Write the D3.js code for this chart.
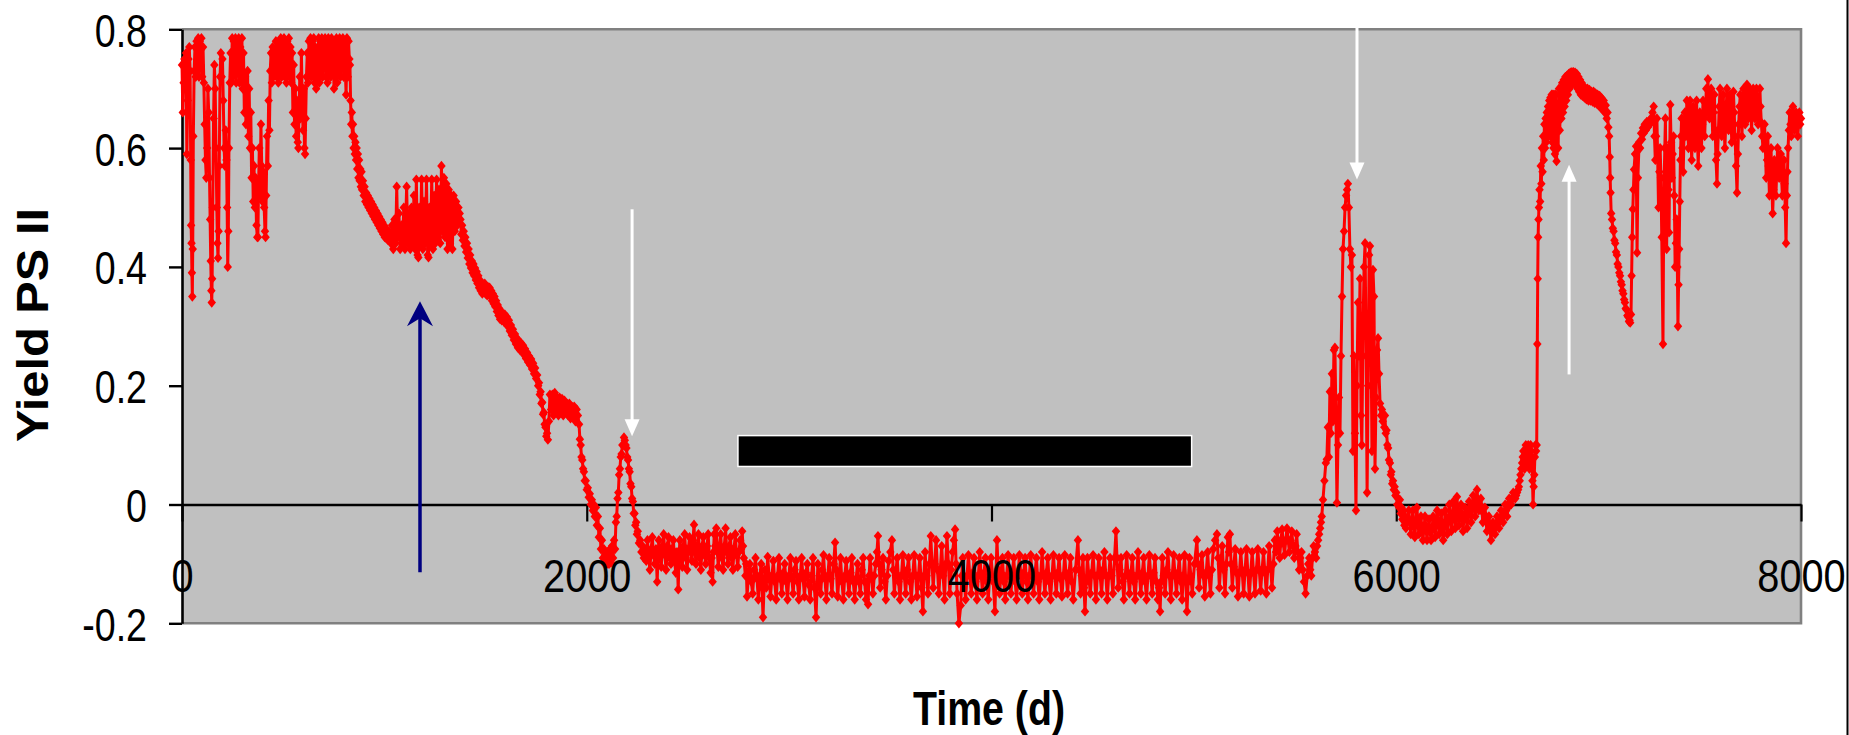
<!DOCTYPE html>
<html><head><meta charset="utf-8">
<script src="https://cdn.jsdelivr.net/npm/d3@7"></script>
<style>html,body{margin:0;padding:0;background:#fff;}svg{display:block;}text{font-family:"Liberation Sans",Arial,sans-serif;}</style>
</head><body><svg id="chart" width="1849" height="735"></svg>
<script>
// ---------- data ----------
const xTickValues = [0, 2000, 4000, 6000, 8000];
const yTickValues = [-0.2, 0, 0.2, 0.4, 0.6, 0.8];
const yTickLabels = ["-0.2", "0", "0.2", "0.4", "0.6", "0.8"];
const xTitle = "Time (d)";
const yTitle = "Yield PS II";

// [day, yield]
const observations = [
[0,0.74],[4,0.66],[8,0.71],[12,0.75],[16,0.70],[20,0.76],[24,0.59],[28,0.68],[32,0.75],[36,0.77],[40,0.73],[43,0.58],[45,0.47],[47,0.44],[49,0.39],[51,0.35],[53,0.43],[56,0.62],[60,0.73],[64,0.77],[68,0.72],[72,0.78],[76,0.73],[80,0.785],[84,0.72],[88,0.78],[92,0.74],[96,0.785],[100,0.72],[104,0.77],[108,0.71],[112,0.64],[116,0.58],[120,0.55],[124,0.60],[128,0.70],[132,0.66],[136,0.55],[139,0.48],[142,0.41],[145,0.36],[147,0.34],[149,0.38],[152,0.50],[156,0.65],[160,0.74],[164,0.70],[168,0.60],[172,0.50],[175,0.44],[178,0.415],[181,0.46],[184,0.57],[188,0.72],[192,0.76],[196,0.72],[200,0.75],[204,0.68],[208,0.60],[212,0.57],[216,0.63],[220,0.58],[223,0.50],[226,0.40],[229,0.46],[232,0.60],[236,0.71],[240,0.76],[244,0.71],[248,0.785],[252,0.72],[256,0.78],[260,0.73],[264,0.785],[268,0.71],[272,0.78],[276,0.73],[280,0.785],[284,0.71],[288,0.77],[292,0.72],[296,0.785],[300,0.70],[304,0.76],[308,0.66],[312,0.72],[316,0.64],[320,0.66],[324,0.73],[328,0.62],[332,0.70],[336,0.60],[340,0.66],[344,0.55],[348,0.60],[352,0.51],[356,0.57],[360,0.50],[364,0.55],[368,0.47],[372,0.45],[375,0.45],[378,0.53],[382,0.60],[386,0.52],[390,0.64],[394,0.57],[398,0.51],[402,0.56],[406,0.50],[410,0.46],[413,0.45],[416,0.52],[420,0.62],[424,0.57],[428,0.68],[432,0.63],[436,0.73],[440,0.76],[444,0.71],[448,0.77],[452,0.72],[456,0.76],[460,0.73],[464,0.78],[468,0.72],[472,0.77],[476,0.71],[480,0.78],[484,0.74],[488,0.785],[492,0.72],[496,0.78],[500,0.73],[504,0.785],[508,0.72],[512,0.77],[516,0.71],[520,0.78],[524,0.73],[528,0.785],[532,0.72],[536,0.77],[540,0.71],[544,0.76],[548,0.66],[552,0.74],[556,0.64],[560,0.70],[564,0.62],[568,0.68],[572,0.61],[575,0.60],[578,0.66],[582,0.72],[586,0.65],[590,0.76],[594,0.68],[598,0.63],[602,0.70],[605,0.60],[608,0.59],[611,0.65],[615,0.72],[619,0.76],[623,0.71],[627,0.78],[631,0.73],[635,0.785],[639,0.72],[643,0.78],[647,0.73],[651,0.785],[655,0.71],[659,0.77],[663,0.70],[667,0.76],[671,0.72],[675,0.785],[679,0.71],[683,0.78],[687,0.73],[691,0.785],[695,0.72],[699,0.78],[703,0.74],[707,0.785],[711,0.72],[715,0.78],[719,0.71],[723,0.785],[727,0.73],[731,0.78],[735,0.72],[739,0.785],[743,0.73],[747,0.78],[751,0.70],[755,0.77],[759,0.72],[763,0.785],[767,0.71],[771,0.78],[775,0.73],[779,0.785],[783,0.72],[787,0.78],[791,0.74],[795,0.785],[799,0.72],[803,0.78],[807,0.73],[811,0.69],[815,0.785],[819,0.72],[823,0.78],[827,0.75],[830,0.74],
[833,0.68],[836,0.64],[839,0.66],[842,0.62],[845,0.64],[848,0.60],[851,0.62],[854,0.59],[857,0.61],[860,0.58],[863,0.60],[866,0.565],[869,0.59],[872,0.55],[875,0.58],[878,0.545],[881,0.565],[884,0.535],[887,0.56],[890,0.53],[894,0.545],[898,0.52],[902,0.535],[906,0.51],[910,0.525],[914,0.505],[918,0.52],[922,0.50],[926,0.515],[930,0.495],[934,0.51],[938,0.49],[942,0.505],[946,0.485],[950,0.50],[954,0.48],[958,0.495],[962,0.475],[966,0.49],[970,0.47],[974,0.485],[978,0.465],[982,0.48],[986,0.46],[990,0.475],[994,0.455],[998,0.47],[1002,0.45],[1006,0.465],[1010,0.448],[1014,0.462],[1018,0.445],[1022,0.46],[1026,0.445],
[1032,0.44],[1038,0.47],[1044,0.43],[1050,0.48],[1056,0.44],[1061,0.535],[1066,0.45],[1072,0.49],[1078,0.43],[1084,0.47],[1090,0.44],[1096,0.50],[1102,0.43],[1110,0.535],[1116,0.44],[1122,0.49],[1128,0.43],[1134,0.50],[1140,0.44],[1146,0.52],[1152,0.43],[1158,0.547],[1164,0.42],[1168,0.416],[1172,0.50],[1178,0.44],[1184,0.547],[1190,0.43],[1196,0.51],[1202,0.44],[1208,0.547],[1214,0.42],[1218,0.416],[1222,0.50],[1228,0.44],[1234,0.547],[1240,0.43],[1246,0.52],[1252,0.44],[1258,0.547],[1264,0.45],[1270,0.53],[1276,0.44],[1282,0.57],[1288,0.46],[1294,0.55],[1300,0.45],[1306,0.54],[1312,0.43],[1318,0.53],[1324,0.44],[1330,0.52],[1336,0.43],[1342,0.52],[1348,0.46],[1354,0.51],[1360,0.47],[1366,0.50],[1372,0.49],
[1376,0.48],[1380,0.455],[1384,0.47],[1388,0.445],[1392,0.46],[1396,0.435],[1400,0.45],[1404,0.425],[1408,0.44],[1412,0.415],[1416,0.43],[1420,0.405],[1424,0.42],[1428,0.398],[1432,0.41],[1436,0.39],[1440,0.405],[1444,0.385],[1448,0.398],[1452,0.378],[1456,0.392],[1460,0.372],[1464,0.385],[1468,0.365],[1472,0.378],[1476,0.36],[1480,0.372],[1484,0.355],[1488,0.37],[1492,0.358],[1496,0.372],[1500,0.355],[1504,0.368],[1508,0.352],[1512,0.366],[1516,0.355],[1520,0.365],[1524,0.35],[1528,0.36],[1532,0.343],[1536,0.355],[1540,0.338],[1544,0.35],[1548,0.333],[1552,0.343],[1556,0.325],[1560,0.336],[1564,0.318],[1568,0.33],[1572,0.312],[1576,0.325],[1580,0.31],[1585,0.322],[1590,0.308],[1595,0.32],[1600,0.305],[1605,0.316],[1610,0.3],[1615,0.31],[1620,0.292],[1625,0.302],[1630,0.285],[1635,0.295],[1640,0.277],[1645,0.287],[1650,0.27],[1655,0.28],[1660,0.264],[1665,0.275],[1670,0.26],[1675,0.272],[1680,0.258],[1685,0.268],[1690,0.252],[1695,0.262],[1700,0.246],[1705,0.256],[1710,0.24],[1715,0.25],[1720,0.235],[1725,0.245],[1730,0.228],[1735,0.238],[1740,0.22],[1745,0.23],[1750,0.212],[1755,0.218],[1760,0.2],[1764,0.205],[1768,0.185],[1772,0.19],[1776,0.17],[1780,0.172],[1784,0.152],[1788,0.155],[1792,0.135],[1796,0.13],[1800,0.115],[1804,0.12],[1808,0.109],[1813,0.14],[1818,0.185],
[1824,0.16],[1830,0.185],[1836,0.15],[1842,0.188],[1848,0.16],[1854,0.18],[1860,0.15],[1866,0.18],[1872,0.155],[1878,0.178],[1884,0.15],[1890,0.175],[1896,0.155],[1902,0.17],[1908,0.15],[1914,0.17],[1920,0.145],[1926,0.165],[1932,0.15],[1938,0.165],[1944,0.14],[1950,0.16],[1956,0.15],
[1962,0.135],[1966,0.11],[1970,0.1],[1974,0.08],[1978,0.075],[1982,0.06],[1986,0.055],[1990,0.04],[1995,0.04],[2000,0.025],[2005,0.028],[2010,0.012],[2015,0.018],[2020,0.0],[2025,0.008],[2030,-0.01],[2035,0.0],[2040,-0.02],[2045,-0.005],[2050,-0.035],[2055,-0.02],[2060,-0.055],[2065,-0.04],[2070,-0.075],[2075,-0.06],[2080,-0.09],[2085,-0.075],[2090,-0.1],[2095,-0.085],[2100,-0.1],[2105,-0.08],[2110,-0.1],[2115,-0.075],[2120,-0.098],[2125,-0.07],[2130,-0.09],[2135,-0.06],[2140,-0.075],[2144,-0.03],[2148,-0.02],[2152,0.01],[2156,0.02],[2160,0.05],[2164,0.06],[2168,0.08],[2172,0.085],[2176,0.1],[2180,0.1],[2184,0.113],[2188,0.108],[2192,0.1],[2196,0.095],[2200,0.08],[2204,0.075],[2208,0.06],[2212,0.055],[2216,0.035],[2220,0.03],[2224,0.01],[2228,0.005],[2232,-0.015],[2236,-0.015],[2240,-0.035],[2244,-0.03],[2248,-0.05],[2252,-0.045],[2258,-0.065],[2264,-0.06],[2270,-0.08],[2276,-0.07],[2282,-0.09],[2288,-0.075],[2294,-0.095],
[2300,-0.06],[2306,-0.09],[2312,-0.11],[2318,-0.075],[2324,-0.055],[2330,-0.085],[2336,-0.10],[2342,-0.075],[2348,-0.13],[2352,-0.09],[2356,-0.06],[2362,-0.085],[2368,-0.105],[2374,-0.07],[2380,-0.05],[2386,-0.085],[2392,-0.11],[2398,-0.07],[2404,-0.055],[2410,-0.09],[2416,-0.10],[2422,-0.075],[2428,-0.06],[2434,-0.095],[2440,-0.115],[2446,-0.08],[2452,-0.143],[2456,-0.09],[2460,-0.06],[2466,-0.085],[2472,-0.105],[2478,-0.07],[2484,-0.05],[2490,-0.09],[2496,-0.11],[2502,-0.075],[2508,-0.055],[2514,-0.08],[2520,-0.095],[2525,-0.06],[2530,-0.034],[2535,-0.08],[2540,-0.10],[2546,-0.07],[2552,-0.05],[2558,-0.09],[2564,-0.11],[2570,-0.07],[2576,-0.055],[2582,-0.085],[2588,-0.10],[2594,-0.07],[2600,-0.05],[2606,-0.09],[2612,-0.115],[2617,-0.09],[2622,-0.13],[2626,-0.08],[2630,-0.05],[2635,-0.07],[2640,-0.04],[2645,-0.08],[2650,-0.105],[2656,-0.07],[2662,-0.05],[2668,-0.09],[2674,-0.11],[2680,-0.07],[2686,-0.04],[2692,-0.08],[2698,-0.10],[2704,-0.07],[2710,-0.055],[2716,-0.09],[2722,-0.11],[2728,-0.075],[2734,-0.05],[2740,-0.085],[2746,-0.105],[2752,-0.08],[2758,-0.06],[2763,-0.075],[2768,-0.045],[2772,-0.07],[2776,-0.09],
[2784,-0.12],[2788,-0.10],[2792,-0.155],[2799,-0.12],[2806,-0.10],[2813,-0.13],[2820,-0.15],[2827,-0.11],[2834,-0.09],[2841,-0.125],[2848,-0.16],[2855,-0.12],[2862,-0.10],[2866,-0.14],[2871,-0.19],[2876,-0.14],[2880,-0.11],[2887,-0.14],[2894,-0.088],[2901,-0.12],[2908,-0.155],[2915,-0.12],[2922,-0.095],[2929,-0.13],[2936,-0.16],[2943,-0.12],[2950,-0.09],[2957,-0.125],[2964,-0.15],[2971,-0.115],[2978,-0.10],[2985,-0.13],[2992,-0.16],[2999,-0.12],[3006,-0.09],[3013,-0.125],[3020,-0.15],[3027,-0.11],[3034,-0.095],[3041,-0.13],[3048,-0.16],[3055,-0.12],[3062,-0.09],[3069,-0.125],[3076,-0.155],[3083,-0.115],[3090,-0.10],[3097,-0.135],[3104,-0.16],[3111,-0.12],[3118,-0.09],[3125,-0.14],[3133,-0.19],[3138,-0.14],[3142,-0.10],[3149,-0.13],[3156,-0.15],[3163,-0.11],[3170,-0.085],[3177,-0.125],[3184,-0.16],[3191,-0.12],[3198,-0.09],[3205,-0.125],[3212,-0.15],[3220,-0.10],[3227,-0.064],[3233,-0.11],[3240,-0.155],[3247,-0.12],[3254,-0.09],[3261,-0.13],[3268,-0.16],[3275,-0.12],[3282,-0.095],[3289,-0.125],[3296,-0.15],[3303,-0.115],[3310,-0.09],[3317,-0.13],[3324,-0.16],[3331,-0.125],[3338,-0.10],[3345,-0.13],[3352,-0.15],[3359,-0.11],[3366,-0.09],[3373,-0.13],[3380,-0.16],[3385,-0.13],[3390,-0.168],[3395,-0.12],[3400,-0.09],[3407,-0.12],[3414,-0.15],[3421,-0.12],[3428,-0.10],[3434,-0.08],[3439,-0.053],[3445,-0.10],[3450,-0.14],[3457,-0.11],[3464,-0.09],[3471,-0.13],[3478,-0.16],[3485,-0.12],[3492,-0.095],[3500,-0.08],[3508,-0.06],[3514,-0.11],[3520,-0.15],[3527,-0.115],[3534,-0.09],[3541,-0.13],[3548,-0.16],[3555,-0.12],[3562,-0.085],[3569,-0.12],[3576,-0.15],[3583,-0.11],[3590,-0.09],[3597,-0.13],[3604,-0.16],[3611,-0.12],[3618,-0.085],[3625,-0.12],[3632,-0.155],[3639,-0.12],[3646,-0.09],[3654,-0.14],[3661,-0.18],[3666,-0.12],[3672,-0.08],[3679,-0.12],[3686,-0.15],[3693,-0.10],[3700,-0.053],[3706,-0.10],[3712,-0.14],[3719,-0.10],[3726,-0.06],[3733,-0.11],[3740,-0.15],[3747,-0.11],[3754,-0.07],[3761,-0.12],[3768,-0.16],[3774,-0.10],[3780,-0.053],[3787,-0.10],[3794,-0.15],[3801,-0.11],[3808,-0.08],[3814,-0.06],[3820,-0.042],[3825,-0.10],[3830,-0.15],[3839,-0.2],[3848,-0.17],[3853,-0.12],[3858,-0.09],[3865,-0.125],[3872,-0.16],[3879,-0.12],[3886,-0.085],[3893,-0.12],[3900,-0.15],[3907,-0.115],[3914,-0.09],[3921,-0.13],[3928,-0.16],[3935,-0.12],[3942,-0.08],[3949,-0.12],[3956,-0.15],[3963,-0.115],[3970,-0.09],[3977,-0.13],[3984,-0.16],[3991,-0.12],[3998,-0.09],[4008,-0.13],[4017,-0.18],[4022,-0.12],[4027,-0.06],[4033,-0.11],[4040,-0.15],[4047,-0.115],[4054,-0.09],[4061,-0.13],[4068,-0.16],[4075,-0.12],[4082,-0.085],[4089,-0.12],[4096,-0.15],[4103,-0.115],[4110,-0.09],[4117,-0.13],[4124,-0.16],[4131,-0.12],[4138,-0.085],[4145,-0.12],[4152,-0.15],[4159,-0.115],[4166,-0.09],[4173,-0.13],[4180,-0.16],[4187,-0.12],[4194,-0.085],[4201,-0.12],[4208,-0.15],[4215,-0.115],[4222,-0.09],[4229,-0.13],[4236,-0.16],[4243,-0.12],[4250,-0.08],[4257,-0.12],[4264,-0.15],[4271,-0.115],[4278,-0.09],[4285,-0.13],[4292,-0.16],[4299,-0.12],[4306,-0.085],[4313,-0.12],[4320,-0.15],[4327,-0.115],[4334,-0.09],[4341,-0.125],[4348,-0.155],[4355,-0.12],[4362,-0.085],[4369,-0.12],[4376,-0.15],[4383,-0.115],[4390,-0.09],[4397,-0.13],[4404,-0.16],[4415,-0.11],[4427,-0.06],[4433,-0.11],[4440,-0.15],[4446,-0.12],[4452,-0.09],[4457,-0.14],[4462,-0.18],[4468,-0.13],[4474,-0.09],[4481,-0.12],[4488,-0.15],[4495,-0.115],[4502,-0.085],[4509,-0.12],[4516,-0.16],[4523,-0.12],[4530,-0.09],[4537,-0.12],[4544,-0.15],[4551,-0.11],[4558,-0.08],[4565,-0.12],[4572,-0.16],[4579,-0.12],[4586,-0.09],[4593,-0.12],[4600,-0.15],[4608,-0.09],[4615,-0.045],[4620,-0.09],[4626,-0.14],[4633,-0.11],[4640,-0.09],[4647,-0.13],[4654,-0.16],[4661,-0.12],[4668,-0.085],[4675,-0.12],[4682,-0.15],[4689,-0.115],[4696,-0.09],[4703,-0.13],[4710,-0.16],[4717,-0.12],[4724,-0.08],[4731,-0.12],[4738,-0.15],[4745,-0.115],[4752,-0.09],[4759,-0.13],[4766,-0.16],[4773,-0.12],[4780,-0.085],[4787,-0.12],[4794,-0.15],[4801,-0.115],[4808,-0.09],[4815,-0.13],[4822,-0.16],[4828,-0.14],[4833,-0.18],[4838,-0.13],[4844,-0.09],[4851,-0.12],[4858,-0.15],[4865,-0.11],[4872,-0.08],[4879,-0.12],[4886,-0.16],[4893,-0.12],[4900,-0.085],[4907,-0.12],[4914,-0.15],[4921,-0.115],[4928,-0.09],[4935,-0.13],[4942,-0.16],[4948,-0.12],[4954,-0.085],[4960,-0.13],[4966,-0.18],[4972,-0.13],[4978,-0.09],[4985,-0.12],[4992,-0.15],[5003,-0.10],[5015,-0.06],[5020,-0.10],[5026,-0.14],[5033,-0.11],[5040,-0.085],[5047,-0.12],[5054,-0.155],[5061,-0.115],[5068,-0.08],[5075,-0.12],[5082,-0.15],[5089,-0.11],[5096,-0.075],[5105,-0.06],[5114,-0.05],[5120,-0.09],[5126,-0.14],[5133,-0.10],[5140,-0.07],[5147,-0.11],[5154,-0.15],[5161,-0.10],[5168,-0.055],[5173,-0.08],[5178,-0.05],[5184,-0.10],[5190,-0.14],[5197,-0.105],[5204,-0.075],[5211,-0.115],[5218,-0.155],[5225,-0.115],[5232,-0.08],[5239,-0.115],[5246,-0.15],[5253,-0.11],[5260,-0.075],[5267,-0.115],[5274,-0.155],[5281,-0.115],[5288,-0.08],[5295,-0.115],[5302,-0.15],[5309,-0.11],[5316,-0.075],[5323,-0.11],[5330,-0.145],[5337,-0.11],[5344,-0.08],[5351,-0.115],[5358,-0.15],[5365,-0.11],[5372,-0.07],[5379,-0.105],[5386,-0.14],[5393,-0.10],[5400,-0.06],[5406,-0.08],[5412,-0.045],[5418,-0.07],[5424,-0.09],[5430,-0.06],[5436,-0.042],[5442,-0.065],[5448,-0.085],[5454,-0.06],[5460,-0.04],[5466,-0.06],[5472,-0.08],[5478,-0.06],[5484,-0.045],[5490,-0.07],[5496,-0.09],[5502,-0.07],[5508,-0.05],[5514,-0.08],[5520,-0.11],[5526,-0.09],[5532,-0.08],[5538,-0.11],[5544,-0.13],[5552,-0.15],[5560,-0.12],[5565,-0.10],[5570,-0.09],[5575,-0.11],[5580,-0.12],[5586,-0.09],[5592,-0.07],[5598,-0.08],[5604,-0.09],[5609,-0.07],[5614,-0.06],[5619,-0.05],[5624,-0.04],[5628,-0.03],[5632,-0.02],[5638,0.008],
[5645,0.04],[5652,0.07],[5657,0.076],[5662,0.13],[5667,0.08],[5672,0.19],[5677,0.12],[5682,0.22],[5687,0.14],[5692,0.26],[5697,0.264],[5702,0.15],[5707,0.003],[5712,0.10],[5717,0.18],[5722,0.12],[5727,0.25],[5732,0.35],[5737,0.43],[5742,0.46],[5747,0.50],[5752,0.52],[5757,0.53],[5761,0.54],[5766,0.50],[5771,0.43],[5776,0.40],[5781,0.42],[5786,0.09],[5791,0.25],[5796,0.12],[5801,-0.01],[5806,0.20],[5811,0.34],[5816,0.25],[5821,0.38],[5826,0.15],[5830,0.10],[5836,0.30],[5841,0.40],[5846,0.44],[5851,0.25],[5856,0.02],[5861,0.20],[5866,0.42],[5870,0.435],[5875,0.30],[5880,0.09],[5885,0.395],[5890,0.35],[5895,0.06],[5900,0.18],[5905,0.26],[5910,0.28],[5915,0.22],
[5920,0.17],[5925,0.15],[5929,0.16],[5933,0.14],[5937,0.15],[5941,0.13],[5944,0.15],[5948,0.12],[5952,0.125],[5956,0.10],[5960,0.095],[5964,0.075],[5969,0.07],[5973,0.05],[5976,0.055],[5980,0.035],[5984,0.04],[5988,0.025],[5992,0.03],[5996,0.015],[6000,0.02],[6005,0.0],[6010,0.01],[6014,-0.005],[6018,0.008],[6022,-0.015],[6026,-0.005],[6030,-0.025],[6035,-0.01],[6040,-0.035],[6044,-0.02],[6048,-0.04],[6053,-0.03],
[6062,-0.01],[6067,-0.03],[6072,-0.05],[6077,-0.03],[6082,-0.01],[6087,-0.035],[6092,-0.055],[6097,-0.03],[6102,-0.005],[6107,-0.03],[6112,-0.05],[6117,-0.035],[6122,-0.02],[6127,-0.04],[6132,-0.06],[6137,-0.04],[6142,-0.02],[6147,-0.04],[6152,-0.06],[6157,-0.04],[6162,-0.025],[6167,-0.045],[6172,-0.06],[6177,-0.04],[6182,-0.02],[6187,-0.035],[6192,-0.055],[6197,-0.03],[6202,-0.01],[6207,-0.03],[6212,-0.05],[6217,-0.03],[6222,-0.015],[6227,-0.04],[6232,-0.06],[6237,-0.035],[6242,-0.01],[6247,-0.03],[6252,-0.05],[6257,-0.025],[6262,0.0],[6267,-0.02],[6272,-0.045],[6277,-0.02],[6282,0.005],[6287,-0.02],[6292,-0.04],[6296,-0.01],[6300,0.013],[6305,-0.015],[6310,-0.035],[6315,-0.015],[6320,0.0],[6325,-0.02],[6330,-0.045],[6335,-0.02],[6340,-0.005],[6345,-0.02],[6350,-0.04],[6355,-0.015],[6360,0.005],[6365,-0.01],[6370,-0.03],[6375,-0.005],[6380,0.015],[6385,0.0],[6390,-0.02],[6395,0.005],[6399,0.025],[6404,0.005],[6408,-0.01],[6413,0.0],[6418,0.01],[6423,-0.01],[6428,-0.03],[6433,-0.015],[6438,-0.005],[6443,-0.025],[6448,-0.045],[6453,-0.03],[6458,-0.02],[6463,-0.04],[6468,-0.06],[6473,-0.045],[6478,-0.03],[6483,-0.04],[6488,-0.05],[6493,-0.035],[6498,-0.02],[6503,-0.03],[6508,-0.04],[6513,-0.025],[6518,-0.01],[6523,-0.02],[6528,-0.03],[6533,-0.015],[6538,0.0],[6543,-0.01],[6548,-0.02],[6553,-0.005],[6558,0.01],[6563,0.005],[6568,0.0],[6573,0.01],[6578,0.02],[6583,0.015],[6588,0.01],[6592,0.015],[6597,0.02],[6602,0.025],[6606,0.03],[6610,0.04],[6614,0.05],[6618,0.06],[6622,0.07],[6625,0.08],[6628,0.09],[6631,0.075],[6634,0.06],[6637,0.08],[6640,0.1],[6643,0.085],[6646,0.07],[6649,0.085],[6652,0.1],[6655,0.08],[6658,0.06],[6661,0.08],[6664,0.1],[6667,0.09],[6670,0.08],[6673,0.04],[6676,0.0],[6679,0.03],[6682,0.05],[6685,0.08],[6688,0.1],[6691,0.09],[6694,0.1],
[6697,0.27],[6699,0.38],[6701,0.45],[6703,0.48],[6705,0.50],[6708,0.53],[6711,0.51],[6714,0.57],[6717,0.54],[6720,0.6],[6723,0.56],[6726,0.62],[6729,0.58],[6732,0.64],[6735,0.6],[6738,0.65],[6741,0.61],[6744,0.66],[6747,0.62],[6750,0.67],[6753,0.62],[6756,0.68],[6759,0.63],[6762,0.685],[6765,0.62],[6768,0.69],[6771,0.61],[6774,0.69],[6777,0.60],[6780,0.69],[6784,0.59],[6788,0.69],[6792,0.578],[6796,0.67],[6800,0.6],[6804,0.70],[6808,0.63],[6812,0.70],[6816,0.65],[6820,0.71],[6824,0.66],[6828,0.715],[6832,0.67],[6836,0.72],[6840,0.68],[6844,0.722],[6848,0.69],[6852,0.725],[6856,0.70],[6860,0.727],[6864,0.705],[6868,0.728],[6872,0.71],[6876,0.728],[6880,0.71],[6884,0.727],[6888,0.705],[6892,0.725],[6896,0.70],[6900,0.72],[6904,0.695],[6908,0.715],[6912,0.69],[6916,0.71],[6920,0.688],[6925,0.705],[6930,0.685],[6935,0.70],[6940,0.682],[6945,0.70],[6950,0.68],[6955,0.698],[6960,0.68],[6965,0.695],[6970,0.678],[6975,0.695],[6980,0.676],[6985,0.692],[6990,0.675],[6995,0.69],[7000,0.672],[7005,0.688],[7010,0.668],[7015,0.684],[7020,0.665],[7025,0.68],[7030,0.66],[7035,0.672],[7040,0.65],[7044,0.66],[7048,0.635],[7052,0.62],[7055,0.585],[7057,0.55],[7059,0.525],[7062,0.49],
[7066,0.48],[7070,0.465],[7074,0.46],[7078,0.445],[7082,0.44],[7086,0.425],[7090,0.42],[7094,0.405],[7098,0.40],[7102,0.39],[7106,0.385],[7110,0.375],[7114,0.37],[7118,0.36],[7122,0.355],[7126,0.345],[7130,0.34],[7134,0.33],[7138,0.328],[7142,0.318],[7146,0.316],[7150,0.308],[7153,0.31],[7156,0.306],
[7160,0.32],[7163,0.385],[7166,0.45],[7169,0.497],[7172,0.53],[7175,0.564],[7180,0.59],[7185,0.603],[7190,0.424],[7194,0.55],[7200,0.61],[7205,0.6],[7210,0.625],[7214,0.615],[7219,0.634],[7223,0.625],[7228,0.64],[7233,0.63],[7238,0.644],[7243,0.635],[7248,0.645],[7253,0.64],[7258,0.65],[7262,0.645],[7266,0.66],[7272,0.67],[7276,0.62],[7280,0.58],[7284,0.62],[7288,0.65],[7292,0.58],[7296,0.50],[7300,0.56],[7304,0.60],[7308,0.55],[7312,0.45],[7318,0.27],[7321,0.45],[7324,0.55],[7327,0.60],[7330,0.65],[7333,0.55],[7336,0.43],[7339,0.52],[7342,0.60],[7345,0.53],[7348,0.458],[7351,0.58],[7354,0.673],[7358,0.61],[7362,0.55],[7366,0.59],[7370,0.62],[7374,0.52],[7378,0.40],[7382,0.44],[7386,0.48],[7389,0.40],[7392,0.30],[7395,0.37],[7398,0.43],[7401,0.51],[7404,0.58],[7407,0.62],[7410,0.65],[7414,0.60],[7418,0.56],[7422,0.62],[7426,0.66],[7431,0.62],[7436,0.68],[7440,0.64],[7444,0.60],[7448,0.64],[7452,0.68],[7456,0.62],[7460,0.58],[7464,0.63],[7468,0.67],[7472,0.64],[7476,0.60],[7480,0.65],[7484,0.68],[7488,0.62],[7492,0.57],[7496,0.62],[7500,0.66],[7504,0.63],[7508,0.60],[7512,0.64],[7516,0.68],[7520,0.65],[7524,0.62],[7528,0.66],[7532,0.70],[7536,0.66],[7540,0.716],[7544,0.68],[7548,0.65],[7552,0.68],[7556,0.70],[7560,0.66],[7564,0.62],[7568,0.66],[7572,0.69],[7576,0.63],[7580,0.58],[7585,0.54],[7588,0.59],[7592,0.63],[7596,0.67],[7600,0.70],[7604,0.66],[7608,0.62],[7612,0.66],[7616,0.69],[7620,0.64],[7624,0.60],[7629,0.65],[7634,0.70],[7638,0.66],[7642,0.63],[7646,0.66],[7650,0.69],[7654,0.65],[7658,0.61],[7662,0.66],[7666,0.695],[7670,0.66],[7674,0.62],[7679,0.57],[7684,0.525],[7688,0.59],[7692,0.64],[7696,0.67],[7700,0.69],[7704,0.66],[7708,0.62],[7712,0.66],[7716,0.70],[7720,0.67],[7724,0.64],[7728,0.68],[7733,0.707],[7736,0.68],[7740,0.65],[7744,0.68],[7748,0.70],[7752,0.66],[7756,0.63],[7760,0.67],[7764,0.70],[7768,0.67],[7772,0.65],[7776,0.68],[7780,0.70],[7784,0.67],[7788,0.64],[7792,0.67],[7797,0.70],[7800,0.67],[7804,0.643],[7808,0.62],[7812,0.60],[7816,0.62],[7820,0.64],[7824,0.60],[7828,0.55],[7832,0.58],[7836,0.62],[7840,0.57],[7844,0.52],[7848,0.56],[7852,0.60],[7856,0.54],[7860,0.49],[7864,0.53],[7868,0.58],[7872,0.55],[7876,0.52],[7880,0.56],[7884,0.60],[7888,0.57],[7892,0.55],[7896,0.57],[7900,0.59],[7904,0.55],[7908,0.52],[7912,0.55],[7916,0.58],[7919,0.54],[7922,0.50],[7926,0.44],[7930,0.52],[7933,0.56],[7936,0.60],[7940,0.63],[7944,0.66],[7948,0.64],[7952,0.62],[7956,0.65],[7960,0.67],[7964,0.65],[7968,0.63],[7972,0.65],[7976,0.66],[7980,0.64],[7984,0.62],[7988,0.64],[7992,0.66],[7996,0.64],[8000,0.65]
];

// annotations, in data units: [day, fromYield, toYield]
const blueArrow = [1176, -0.114, 0.342];
const whiteArrows = [[2224, 0.497, 0.115], [5806, 0.85, 0.547], [6854, 0.219, 0.572]];
const blackBar = {from: 2747, to: 4989, top: 0.116, bottom: 0.064};

// ---------- chart ----------
const svg = d3.select("#chart");
const plotL = 182, plotR = 1801, plotT = 29.3, plotB = 623.3;
const x = d3.scaleLinear().domain([0, 8000]).range([plotL, plotR]);
const y = d3.scaleLinear().domain([-0.2, 0.8]).range([plotB, plotT]);

svg.append("rect").attr("x",0).attr("y",0).attr("width",1849).attr("height",735).attr("fill","#fff");
svg.append("rect").attr("x",plotL).attr("y",plotT).attr("width",plotR-plotL).attr("height",plotB-plotT).attr("fill","#C0C0C0");
svg.append("path")
  .attr("d",`M${plotL},${plotT}H${plotR}V${plotB}H${plotL}`)
  .attr("fill","none").attr("stroke","#808080").attr("stroke-width",2.6);

// right frame edge
svg.append("line").attr("x1",1847.5).attr("x2",1847.5).attr("y1",0).attr("y2",735).attr("stroke","#000").attr("stroke-width",2);

function compress(sel, ratio){
  sel.each(function(){
    const w = this.getComputedTextLength();
    d3.select(this).attr("textLength", w*ratio).attr("lengthAdjust","spacingAndGlyphs");
  });
}

const xAxis = d3.axisBottom(x).tickValues(xTickValues).tickSize(17).tickSizeOuter(0).tickPadding(37).tickFormat(d=>String(d));
const yAxis = d3.axisLeft(y).tickValues(yTickValues).tickSize(13).tickSizeOuter(0).tickPadding(22)
  .tickFormat(d=>yTickLabels[yTickValues.indexOf(d)]);

// axis lines (under data)
const gxL = svg.append("g").attr("transform",`translate(0,${y(0)})`).call(xAxis);
gxL.selectAll("text").remove();
gxL.select(".domain").attr("stroke","#000").attr("stroke-width",2.6);
gxL.selectAll(".tick line").attr("stroke","#000").attr("stroke-width",2.2);

const gyL = svg.append("g").attr("transform",`translate(${plotL},0)`).call(yAxis);
gyL.selectAll("text").remove();
gyL.select(".domain").attr("stroke","#000").attr("stroke-width",2.6);
gyL.selectAll(".tick line").attr("stroke","#000").attr("stroke-width",2.4);

// data series
const line = d3.line().x(d=>x(d[0])).y(d=>y(d[1]));
svg.append("path").datum(observations).attr("d",line)
  .attr("fill","none").attr("stroke","#FF0000").attr("stroke-width",3).attr("stroke-linejoin","round");

const diamond = {draw(ctx,size){const hw=Math.sqrt(size)/2, hh=hw*1.2;
  ctx.moveTo(0,-hh);ctx.lineTo(hw,0);ctx.lineTo(0,hh);ctx.lineTo(-hw,0);ctx.closePath();}};
const sym = d3.symbol().type(diamond).size(72);
svg.append("g").selectAll("path").data(observations).join("path")
  .attr("transform",d=>`translate(${x(d[0])},${y(d[1])})`).attr("d",sym).attr("fill","#FF0000");

// annotations
svg.append("rect").attr("x",x(blackBar.from)).attr("y",y(blackBar.top))
  .attr("width",x(blackBar.to)-x(blackBar.from)).attr("height",y(blackBar.bottom)-y(blackBar.top))
  .attr("fill","#000").attr("stroke","#fff").attr("stroke-width",1.5);

{
  const ax = x(blueArrow[0]), y0 = y(blueArrow[1]), tip = y(blueArrow[2]);
  svg.append("line").attr("x1",ax).attr("x2",ax).attr("y1",y0).attr("y2",tip+15)
    .attr("stroke","#000080").attr("stroke-width",3.5);
  svg.append("path").attr("d",`M${ax},${tip}L${ax+13},${tip+25}L${ax},${tip+17}L${ax-13},${tip+25}Z`).attr("fill","#000080");
}
whiteArrows.forEach(a=>{
  const ax = x(a[0]), y0 = y(a[1]), tip = y(a[2]);
  const dir = tip > y0 ? 1 : -1;
  svg.append("line").attr("x1",ax).attr("x2",ax).attr("y1",y0).attr("y2",tip-dir*12)
    .attr("stroke","#fff").attr("stroke-width",3);
  svg.append("path").attr("d",`M${ax},${tip}L${ax+7.5},${tip-dir*17}L${ax-7.5},${tip-dir*17}Z`).attr("fill","#fff");
});

// axis labels (on top)
const gxT = svg.append("g").attr("transform",`translate(0,${y(0)})`).call(xAxis);
gxT.select(".domain").remove(); gxT.selectAll(".tick line").remove();
gxT.selectAll("text").attr("font-size",47).attr("fill","#000").attr("font-family","Liberation Sans, Arial, sans-serif");
compress(gxT.selectAll("text"), 0.845);

const gyT = svg.append("g").attr("transform",`translate(${plotL},0)`).call(yAxis);
gyT.select(".domain").remove(); gyT.selectAll(".tick line").remove();
gyT.selectAll("text").attr("font-size",47).attr("fill","#000").attr("dy","0.36em").attr("font-family","Liberation Sans, Arial, sans-serif");
compress(gyT.selectAll("text"), 0.8);

// titles
svg.append("text").attr("x",989).attr("y",725).attr("text-anchor","middle")
  .attr("font-weight","bold").attr("font-size",49).attr("textLength",152).attr("lengthAdjust","spacingAndGlyphs")
  .text(xTitle);
svg.append("text").attr("transform","translate(48,325) rotate(-90)").attr("text-anchor","middle")
  .attr("font-weight","bold").attr("font-size",44).attr("textLength",234).attr("lengthAdjust","spacingAndGlyphs")
  .text(yTitle);
</script></body></html>
